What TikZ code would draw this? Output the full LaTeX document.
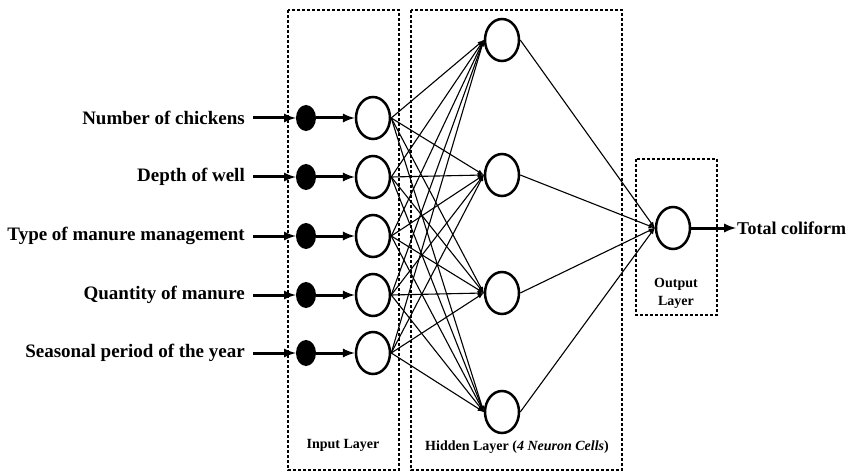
\documentclass[tikz,border=0pt]{standalone}
\usepackage{fontspec}
\setmainfont{Liberation Serif}
\usetikzlibrary{arrows,shapes,calc}
\tikzset{
  neuron/.style={draw,line width=2.5pt,ellipse,minimum width=34pt,minimum height=42pt,inner sep=0pt},
  blackdot/.style={fill=black,ellipse,minimum width=20pt,minimum height=26pt,inner sep=0pt},
  layerbox/.style={line width=1.1pt,dash pattern=on 3pt off 2pt},
  feed/.style={-latex,line width=3pt},
  wire/.style={-latex,line width=1.1pt},
  inputtext/.style={anchor=east,inner sep=2pt,font=\bfseries\fontsize{19}{21}\selectfont},
  layertext/.style={font=\bfseries\fontsize{14}{18}\selectfont,align=center}
}
\begin{document}
\begin{tikzpicture}[x=1pt,y=-1pt]
\useasboundingbox (0,0) rectangle (851,473);
%layer boxes
\draw[layerbox](288,10) rectangle (399,470);
\draw[layerbox](411,10) rectangle (622,470);
\draw[layerbox](636,159) rectangle (717,315);
%inputs
\foreach \i/\y/\txt in {1/118/Number of chickens,2/177/Depth of well,3/236/Type of manure management,4/295/Quantity of manure,5/353/Seasonal period of the year}{
  \node[inputtext] (lab\i) at (247,\y) {\txt};
  \node[blackdot] (dot\i) at (306,\y) {};
  \node[neuron] (inp\i) at (373,\y) {};
  \draw[feed] ($(lab\i.east)+(6,0)$) -- (dot\i);
  \draw[feed] (dot\i) -- (inp\i);
}
%hidden layer
\foreach \j/\y in {1/40,2/175,3/293,4/412}{
  \node[neuron] (hid\j) at (502,\y) {};
}
\foreach \i in {1,...,5}{
  \foreach \j in {1,...,4}{
    \draw[wire] (inp\i.east) -- (hid\j.west);
  }
}
%output
\node[neuron] (out) at (673,228) {};
\foreach \j in {1,...,4}{
  \draw[wire] (hid\j.east) -- (out.west);
}
\node[anchor=west,inner sep=1pt,font=\bfseries\fontsize{18}{20}\selectfont] (total) at (736,228) {Total coliform};
\draw[feed] (out) -- (total);
%labels
\node[layertext] (inlab) at (343,445) {Input Layer};
\node[layertext] (hidlab) at (517,447) {Hidden Layer (\textit{4 Neuron Cells})};
\node[layertext] (outlab) at (676,293) {Output\\Layer};
\end{tikzpicture}
\end{document}
